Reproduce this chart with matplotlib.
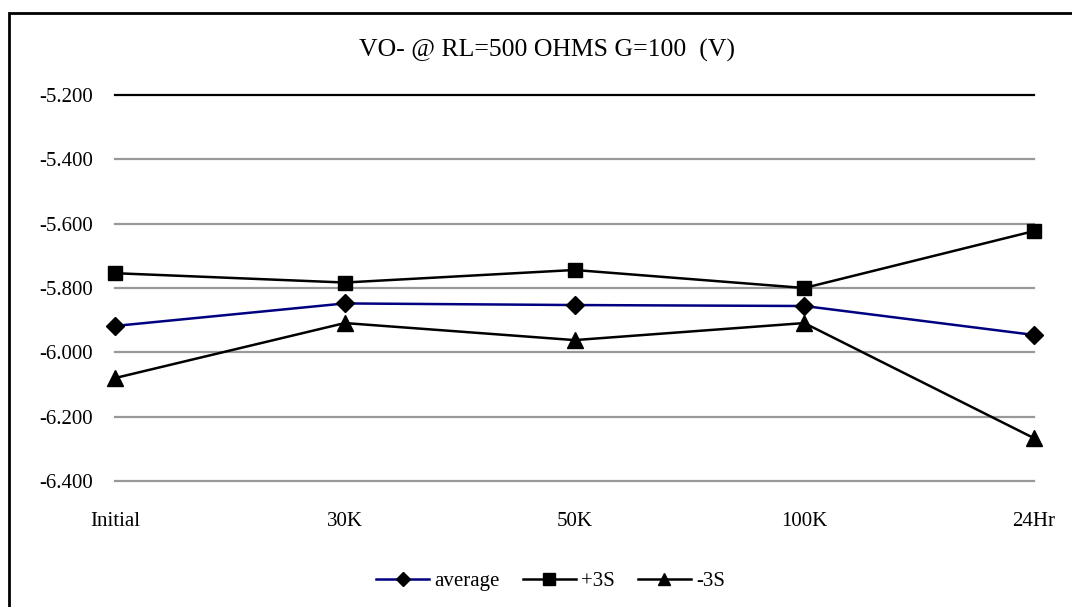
import matplotlib
matplotlib.use("Agg")
import matplotlib.pyplot as plt
from matplotlib.patches import Rectangle

categories = ["Initial", "30K", "50K", "100K", "24Hr"]
average = [-5.918, -5.848, -5.853, -5.856, -5.946]
plus_3s = [-5.754, -5.783, -5.744, -5.800, -5.623]
minus_3s = [-6.080, -5.909, -5.962, -5.909, -6.267]
y_ticks = [-6.4, -6.2, -6.0, -5.8, -5.6, -5.4, -5.2]


def main():
    plt.rcParams['font.family'] = ['Liberation Serif', 'DejaVu Serif']
    fig = plt.figure(figsize=(10.72, 6.07), dpi=100)
    ax = fig.add_axes([0.1073, 0.2076, 0.8573, 0.6359])

    x = range(len(categories))
    ax.plot(x, average, color='#000080', lw=1.8, marker='D', ms=9.5,
            mfc='black', mec='black', label='average', zorder=3,
            clip_on=False)
    ax.plot(x, plus_3s, color='black', lw=1.8, marker='s', ms=10.5,
            mfc='black', mec='black', label='+3S', zorder=3, clip_on=False)
    ax.plot(x, minus_3s, color='black', lw=1.8, marker='^', ms=11,
            mfc='black', mec='black', label='-3S', zorder=3, clip_on=False)

    ax.set_xlim(0, len(categories) - 1)
    ax.set_ylim(-6.4, -5.2)
    ax.set_yticks(y_ticks)
    ax.set_yticklabels([f"{v:.3f}" for v in y_ticks], fontsize=15)
    ax.set_xticks(list(x))
    ax.set_xticklabels(categories, fontsize=15)
    ax.tick_params(length=0, pad=16, axis='y')
    ax.tick_params(length=0, pad=22, axis='x')

    for v in y_ticks:
        ax.axhline(v, color='black' if v == -5.2 else '#999999',
                   lw=1.6, zorder=1, clip_on=False)
    for s in ax.spines.values():
        s.set_visible(False)

    fig.text(0.51, 0.917, "VO- @ RL=500 OHMS G=100  (V)", ha='center',
             va='center', fontsize=18.5)

    ax.legend(loc='center', bbox_to_anchor=(0.474, -0.26), ncol=3,
              frameon=False, fontsize=15, handlelength=2.55,
              columnspacing=1.1, handletextpad=0.25, borderaxespad=0,
              markerscale=0.8)

    fig.patches.append(Rectangle((8.5 / 1072, -0.05), 1.2,
                                 1 - 12.5 / 607 + 0.05,
                                 transform=fig.transFigure, fill=False,
                                 edgecolor='black', lw=2))
    fig.savefig("out.png", dpi=100)


if __name__ == "__main__":
    main()
